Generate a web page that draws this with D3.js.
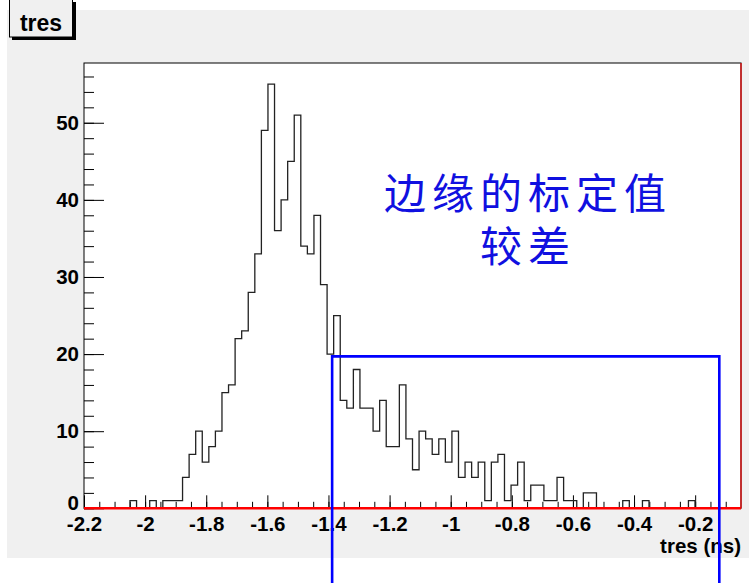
<!DOCTYPE html>
<html>
<head>
<meta charset="utf-8">
<script src="https://cdn.jsdelivr.net/npm/d3@7"></script>
<style>
  html, body { margin: 0; padding: 0; background: #ffffff; }
  svg { display: block; }
</style>
</head>
<body>
<svg id="chart" width="749" height="583"></svg>
<script>
// Histogram "tres": 100 bins between -2.2 and -0.05 ns
const xRange = [-2.2, -0.05];
const counts = [
  0, 0, 0, 0, 0, 0, 0, 1, 0, 0,
  1, 0, 1, 1, 1, 4, 7, 10, 6, 8,
  10, 15, 16, 22, 23, 28, 33, 49, 55, 36,
  40, 45, 51, 34, 33, 38, 29, 20, 25, 14,
  13, 18, 13, 13, 10, 14, 8, 8, 16, 9,
  5, 10, 9, 7, 9, 6, 10, 4, 6, 4,
  6, 1, 6, 7, 1, 3, 6, 1, 3, 3,
  1, 1, 4, 1, 1, 0, 2, 2, 0, 0,
  0, 0, 1, 0, 0, 1, 0, 0, 0, 0,
  0, 0, 1, 0, 0, 0, 0, 0, 0, 0
];
const xTickValues = [-2.2, -2.0, -1.8, -1.6, -1.4, -1.2, -1.0, -0.8, -0.6, -0.4, -0.2];
const xTickLabels = ["-2.2", "-2", "-1.8", "-1.6", "-1.4", "-1.2", "-1", "-0.8", "-0.6", "-0.4", "-0.2"];
const yTickValues = [0, 10, 20, 30, 40, 50];
const yTickLabels = ["0", "10", "20", "30", "40", "50"];
const histTitle = "tres";
const xAxisTitle = "tres (ns)";
const noteLines = ["边缘的标定值", "较差"];
// highlighted region of the tail (x from, x to, upper count)
const regionX = [-1.388, -0.121];
const regionTop = 19.7;

const svg = d3.select("#chart");
const W = 749, H = 583;
const frame = { left: 84, right: 741, top: 63, bottom: 508.3 };

// canvas background
svg.append("rect").attr("x", 7).attr("y", 10).attr("width", W - 7).attr("height", 548)
  .attr("fill", "#f0f0f0");

const nBins = counts.length;
const binW = (xRange[1] - xRange[0]) / nBins;
const yMax = d3.max(counts) * 1.05;

const x = d3.scaleLinear().domain(xRange).range([frame.left, frame.right]);
const y = d3.scaleLinear().domain([0, yMax]).range([frame.bottom, frame.top]);

// plot area
svg.append("rect")
  .attr("x", frame.left).attr("y", frame.top)
  .attr("width", frame.right - frame.left).attr("height", frame.bottom - frame.top)
  .attr("fill", "#ffffff").attr("stroke", "#000").attr("stroke-width", 1);

const font = "'Liberation Sans', Arial, Helvetica, sans-serif";

// x minor ticks every 0.05
const xMinor = d3.range(0, 43).map(i => +(xRange[0] + i * 0.05).toFixed(2)).filter(v => v <= xRange[1] - 0.01);
svg.append("g").attr("transform", `translate(0,${frame.bottom})`)
  .call(d3.axisBottom(x).tickValues(xMinor).tickSize(-6.5).tickFormat(""))
  .call(g => g.select(".domain").remove())
  .call(g => g.selectAll("line").attr("stroke", "#000"));

// x major ticks with labels
svg.append("g").attr("transform", `translate(0,${frame.bottom})`)
  .call(d3.axisBottom(x).tickValues(xTickValues).tickSize(-13).tickPadding(8)
    .tickFormat((d, i) => xTickLabels[i]))
  .call(g => g.select(".domain").remove())
  .call(g => g.selectAll("line").attr("stroke", "#000"))
  .call(g => g.selectAll("text").attr("font-family", font).attr("font-weight", "bold")
    .attr("font-size", 20.5).attr("fill", "#000"));

// y minor ticks every 2 counts
const yMinor = d3.range(0, 57, 2);
svg.append("g").attr("transform", `translate(${frame.left},0)`)
  .call(d3.axisLeft(y).tickValues(yMinor).tickSize(-10).tickFormat(""))
  .call(g => g.select(".domain").remove())
  .call(g => g.selectAll("line").attr("stroke", "#000"));

// y major ticks with labels
svg.append("g").attr("transform", `translate(${frame.left},0)`)
  .call(d3.axisLeft(y).tickValues(yTickValues).tickSize(-20).tickPadding(5)
    .tickFormat((d, i) => yTickLabels[i]))
  .call(g => g.select(".domain").remove())
  .call(g => g.selectAll("line").attr("stroke", "#000"))
  .call(g => g.selectAll("text").attr("font-family", font).attr("font-weight", "bold")
    .attr("font-size", 20.5).attr("fill", "#000")
    .attr("dy", d => d === 0 ? "0.07em" : "0.32em"));

// histogram outline
const pts = [[xRange[0], 0]];
counts.forEach((c, i) => {
  const lo = xRange[0] + i * binW;
  pts.push([lo, c], [lo + binW, c]);
});
pts.push([xRange[1], 0]);
svg.append("path")
  .datum(pts)
  .attr("d", d3.line().x(d => x(d[0])).y(d => y(d[1])))
  .attr("fill", "none").attr("stroke", "#222").attr("stroke-width", 1.3);

// red baseline and right edge
svg.append("line").attr("x1", frame.left).attr("x2", frame.right)
  .attr("y1", y(0)).attr("y2", y(0))
  .attr("stroke", "#ff0000").attr("stroke-width", 2.4);
svg.append("line").attr("x1", frame.right).attr("x2", frame.right)
  .attr("y1", frame.top).attr("y2", frame.bottom)
  .attr("stroke", "#e01010").attr("stroke-width", 1.4);

// axis title
svg.append("text").attr("x", frame.right).attr("y", 553)
  .attr("text-anchor", "end").attr("font-family", font).attr("font-weight", "bold")
  .attr("font-size", 20.5).attr("fill", "#000").text(xAxisTitle);

// title box with shadow
svg.append("rect").attr("x", 12).attr("y", 2).attr("width", 64).attr("height", 38).attr("fill", "#000");
svg.append("rect").attr("x", 9.5).attr("y", -0.5).attr("width", 63).attr("height", 37.5)
  .attr("fill", "#f0f0f0").attr("stroke", "#000").attr("stroke-width", 1);
svg.append("text").attr("x", 41).attr("y", 31).attr("text-anchor", "middle")
  .attr("font-family", font).attr("font-weight", "bold").attr("font-size", 23)
  .attr("fill", "#000").text(histTitle);

// highlighted region
svg.append("path")
  .attr("d", `M${x(regionX[0])},${H} V${y(regionTop)} H${x(regionX[1])} V${H}`)
  .attr("fill", "none").attr("stroke", "#0000ff").attr("stroke-width", 2.6);

// annotation
const note = svg.append("text").attr("text-anchor", "middle")
  .attr("font-family", "'Noto Sans CJK SC', sans-serif").attr("font-size", 42)
  .attr("fill", "#1010e0");
note.selectAll("tspan").data(noteLines).join("tspan")
  .attr("x", 528).attr("y", (d, i) => 209 + i * 53)
  .attr("letter-spacing", 6)
  .text(d => d);
</script>
</body>
</html>
